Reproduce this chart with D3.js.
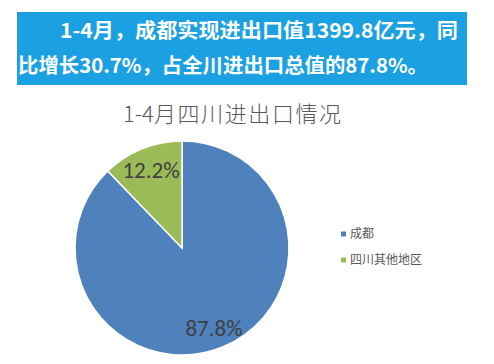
<!DOCTYPE html>
<html>
<head>
<meta charset="utf-8">
<script src="https://cdn.jsdelivr.net/npm/d3@7"></script>
<style>
  html, body { margin: 0; padding: 0; background: #fff; }
  svg { display: block; }
</style>
</head>
<body>
<svg id="chart" width="494" height="364"></svg>
<script>
// Share of Sichuan import/export value, Jan–Apr
const categories = ["成都", "四川其他地区"];
const shares = [87.8, 12.2];
const colors = ["#4f81bd", "#9bbb59"];
const headline = ["1-4月，成都实现进出口值1399.8亿元，同", "比增长30.7%，占全川进出口总值的87.8%。"];
const titlePeriod = "1-4";
const titleText = "月四川进出口情况";

const svg = d3.select("#chart");
const cjk = "'Noto Sans CJK SC', 'Microsoft YaHei', sans-serif";

// Headline banner
svg.append("rect").attr("x", 17).attr("y", 12).attr("width", 450).attr("height", 73)
  .attr("fill", "#1ba1e2");
const hl = [{x: 60, y: 38, w: 398}, {x: 18, y: 73, w: 410}];
svg.selectAll("text.headline").data(headline).join("text")
  .attr("class", "headline")
  .attr("x", (d, i) => hl[i].x).attr("y", (d, i) => hl[i].y)
  .attr("textLength", (d, i) => hl[i].w).attr("lengthAdjust", "spacingAndGlyphs")
  .attr("font-family", cjk).attr("font-weight", "bold").attr("font-size", 20)
  .attr("fill", "#fff").text(d => d);

// Chart title: period in normal spacing, Chinese part slightly tracked
const title = svg.append("text").attr("x", 123).attr("y", 122)
  .attr("font-family", cjk).attr("font-size", 22).attr("font-weight", 300)
  .attr("fill", "#595959");
title.append("tspan").text(titlePeriod);
title.append("tspan").attr("letter-spacing", 1.6).text(titleText);

// Pie
const cx = 182, cy = 248, r = 107;
const pie = d3.pie().sort(null).value(d => d)(shares);
const arc = d3.arc().innerRadius(0).outerRadius(r);
const g = svg.append("g").attr("transform", `translate(${cx},${cy})`);
g.selectAll("path").data(pie).join("path")
  .attr("d", arc).attr("fill", (d, i) => colors[i])
  .attr("stroke", "#fff").attr("stroke-width", 1.5);

// Data labels
g.selectAll("text.val").data(pie).join("text")
  .attr("class", "val")
  .attr("transform", (d, i) => {
    const [x, y] = i === 0 ? [32, 80] : [-31, -78];
    return `translate(${x},${y})`;
  })
  .attr("text-anchor", "middle").attr("dy", "0.35em")
  .attr("font-family", "Carlito, 'Liberation Sans', sans-serif").attr("font-size", 23)
  .attr("fill", "#404040")
  .text(d => d.data.toFixed(1) + "%");

// Legend
const lg = svg.append("g").attr("transform", "translate(341,234)");
const items = lg.selectAll("g").data(categories).join("g")
  .attr("transform", (d, i) => `translate(0,${i * 26})`);
items.append("rect").attr("x", 0).attr("y", -2.5).attr("width", 5).attr("height", 5)
  .attr("fill", (d, i) => colors[i]);
items.append("text").attr("x", 9).attr("y", 0).attr("dy", "0.35em")
  .attr("font-family", cjk).attr("font-size", 12).attr("fill", "#595959")
  .text(d => d);
</script>
</body>
</html>
